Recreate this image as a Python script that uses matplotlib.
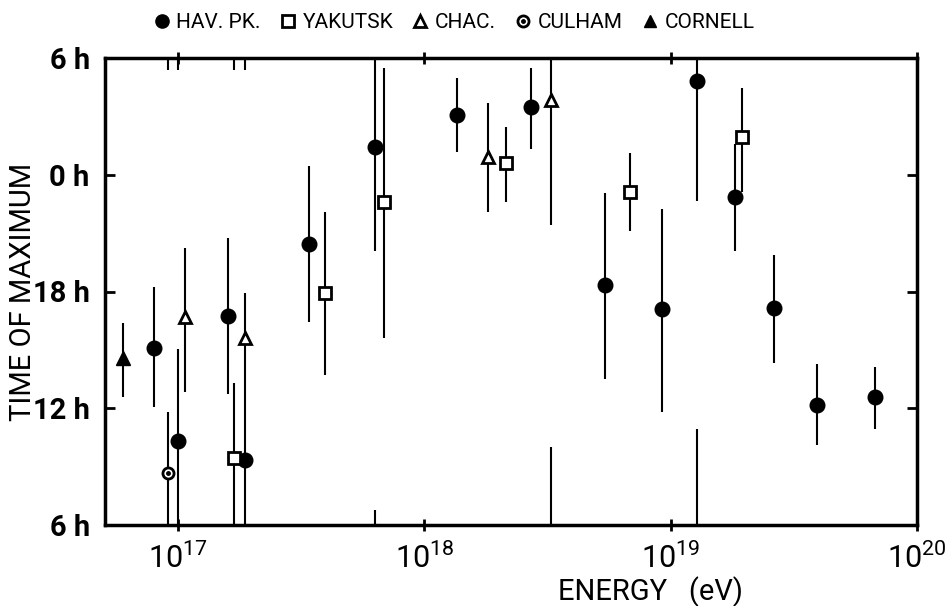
import matplotlib
matplotlib.use("Agg")
import matplotlib.pyplot as plt
from matplotlib import font_manager
from matplotlib.lines import Line2D
from matplotlib.legend_handler import HandlerTuple

# ---------------- data (time in hours, 6..30 frame: 24 = 0 h, 30 = 6 h next day) ---------
hav_E = [8.0e16, 1.0e17, 1.59e17, 1.88e17, 3.41e17, 6.34e17, 1.36e18, 2.72e18,
         5.44e18, 9.23e18, 1.28e19, 1.82e19, 2.62e19, 3.91e19, 6.78e19]
hav_t = [15.08, 10.30, 16.74, 9.34, 20.42, 25.44, 27.05, 27.50,
         18.32, 17.10, 28.82, 22.87, 17.14, 12.17, 12.59]
hav_lo = [12.05, 5.4, 12.73, 5.4, 16.45, 20.08, 25.18, 25.32,
          13.50, 11.81, 22.65, 20.08, 14.34, 10.11, 10.93]
hav_hi = [18.25, 15.04, 20.76, 13.06, 24.46, 30.77, 28.95, 29.47,
          23.08, 22.22, 34.92, 25.56, 19.87, 14.27, 14.10]

yak_E = [1.69e17, 3.94e17, 6.84e17, 2.14e18, 6.81e18, 1.95e19]
yak_t = [9.46, 17.94, 22.61, 24.59, 23.13, 25.92]
yak_lo = [5.4, 13.71, 15.59, 22.61, 21.11, 23.13]
yak_hi = [13.31, 22.07, 29.47, 26.47, 25.10, 28.47]

chac_E = [1.07e17, 1.88e17, 1.82e18, 3.27e18]
chac_t = [16.70, 15.59, 24.93, 27.84]
chac_lo = [12.85, 13.06, 22.10, 21.42]
chac_hi = [20.22, 17.91, 27.67, 33.99]

cul_E = [9.08e16]
cul_t = [8.66]
cul_lo = [5.4]
cul_hi = [11.79]

cor_E = [6.0e16]
cor_t = [14.57]
cor_lo = [12.58]
cor_hi = [16.38]

ytick_vals = [6, 12, 18, 24, 30]
ytick_labels = ["6 h", "12 h", "18 h", "0 h", "6 h"]
xtick_vals = [1e17, 1e18, 1e19, 1e20]
xtick_labels = [r"$\mathregular{10^{17}}$", r"$\mathregular{10^{18}}$",
                r"$\mathregular{10^{19}}$", r"$\mathregular{10^{20}}$"]
legend_labels = ["HAV. PK.", "YAKUTSK", "CHAC.", "CULHAM", "CORNELL"]

# ---------------- font ----------------
names = {f.name for f in font_manager.fontManager.ttflist}
fam = "Roboto" if "Roboto" in names else "DejaVu Sans"
plt.rcParams["font.family"] = [fam, "DejaVu Sans"]
plt.rcParams["mathtext.default"] = "regular"

fig = plt.figure(figsize=(9.46, 6.06), dpi=100)
ax = fig.add_axes([105 / 946, 1 - 525 / 606, (917 - 105) / 946, (525 - 58) / 606])

YMIN, YMAX = 6, 30
LW = 1.5


def draw_bars(E, lo, hi):
    for e, a, b in zip(E, lo, hi):
        ax.vlines(e, max(a, YMIN), min(b, YMAX), color="black", lw=LW, zorder=2)
        if a < YMIN:
            ax.vlines(e, a + 24, YMAX, color="black", lw=LW, zorder=2)
        if b > YMAX:
            ax.vlines(e, YMIN, b - 24, color="black", lw=LW, zorder=2)


for E, lo, hi in [(hav_E, hav_lo, hav_hi), (yak_E, yak_lo, yak_hi),
                  (chac_E, chac_lo, chac_hi), (cul_E, cul_lo, cul_hi),
                  (cor_E, cor_lo, cor_hi)]:
    draw_bars(E, lo, hi)

ax.plot(hav_E, hav_t, "o", ms=10.5, mfc="black", mec="black", zorder=3)
ax.plot(yak_E, yak_t, "s", ms=8.5, mfc="white", mec="black", mew=2, zorder=3)
ax.plot(chac_E, chac_t, "^", ms=9, mfc="white", mec="black", mew=2, zorder=3)
ax.plot(cul_E, cul_t, "o", ms=8, mfc="white", mec="black", mew=2, zorder=3)
ax.plot(cul_E, cul_t, "o", ms=2.5, mfc="black", mec="black", zorder=4)
ax.plot(cor_E, cor_t, "^", ms=10, mfc="black", mec="black", zorder=3)

ax.set_xscale("log")
ax.set_xlim(5.06e16, 1e20)
ax.set_ylim(YMIN, YMAX)
ax.set_xticks(xtick_vals)
ax.set_xticklabels(xtick_labels, fontsize=22)
ax.xaxis.set_minor_locator(matplotlib.ticker.NullLocator())
ax.set_yticks(ytick_vals)
ax.set_yticklabels(ytick_labels, fontsize=21, fontweight="bold")
ax.tick_params(axis="x", which="major", direction="inout", length=8, width=2,
               top=True, pad=9)
ax.tick_params(axis="y", which="major", direction="in", length=7, width=2,
               right=True, pad=11)
for s in ax.spines.values():
    s.set_linewidth(2.5)

ax.set_xlabel("ENERGY   (eV)", fontsize=21)
ax.xaxis.set_label_coords((650 - 105) / 812, -0.11)
ax.set_ylabel("TIME OF MAXIMUM", fontsize=21)
ax.yaxis.set_label_coords(-(105 - 37) / 812, 0.5)

# legend
h_hav = Line2D([], [], ls="none", marker="o", ms=9.5, mfc="black", mec="black")
h_yak = Line2D([], [], ls="none", marker="s", ms=8, mfc="white", mec="black", mew=2)
h_chac = Line2D([], [], ls="none", marker="^", ms=8, mfc="white", mec="black", mew=2)
h_cul1 = Line2D([], [], ls="none", marker="o", ms=8, mfc="white", mec="black", mew=2)
h_cul2 = Line2D([], [], ls="none", marker="o", ms=2.5, mfc="black", mec="black")
h_cor = Line2D([], [], ls="none", marker="^", ms=9, mfc="black", mec="black")
fig.legend([h_hav, h_yak, h_chac, (h_cul1, h_cul2), h_cor], legend_labels,
           handler_map={tuple: HandlerTuple(ndivide=1, pad=0)},
           loc="center", bbox_to_anchor=(454 / 946, 1 - 23 / 606), ncol=5,
           frameon=False, fontsize=15,
           handlelength=0.8, handletextpad=0.3, columnspacing=0.9)

fig.savefig("out.png", dpi=100)
